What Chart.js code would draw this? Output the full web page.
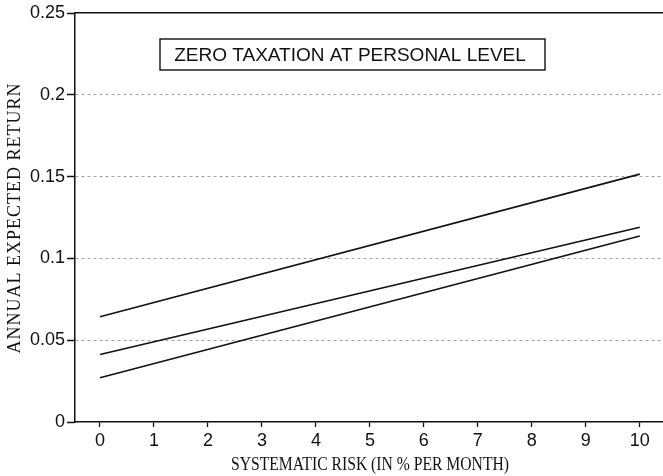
<!DOCTYPE html>
<html>
<head>
<meta charset="utf-8">
<script src="https://cdn.jsdelivr.net/npm/chart.js@4"></script>
<style>
  html, body { margin: 0; padding: 0; background: #fff; }
  #wrap { width: 663px; height: 476px; position: relative; }
</style>
</head>
<body>
<div id="wrap"><canvas id="c" width="663" height="476"></canvas></div>
<script>
// ---- data ----
const riskX = [0, 10];                       // systematic risk (% per month)
const upperLine = [0.0643, 0.1515];
const middleLine = [0.0413, 0.1190];
const lowerLine = [0.0271, 0.1137];
const xTickValues = [0, 1, 2, 3, 4, 5, 6, 7, 8, 9, 10];
const xTickLabels = ['0', '1', '2', '3', '4', '5', '6', '7', '8', '9', '10'];
const yTickValues = [0, 0.05, 0.1, 0.15, 0.2, 0.25];
const yTickLabels = ['0', '0.05', '0.1', '0.15', '0.2', '0.25'];
const xTitle = 'SYSTEMATIC RISK (IN % PER MONTH)';
const yTitle = 'ANNUAL EXPECTED RETURN';
const boxText = 'ZERO TAXATION AT PERSONAL LEVEL';

const toPoints = ys => riskX.map((x, i) => ({ x: x, y: ys[i] }));

const lineStyle = { borderColor: '#111', borderWidth: 1.6, pointRadius: 0, fill: false, tension: 0 };

const decor = {
  id: 'decor',
  afterDraw(chart) {
    const ctx = chart.ctx;
    // annotation box
    ctx.save();
    ctx.strokeStyle = '#111';
    ctx.lineWidth = 1.4;
    ctx.fillStyle = '#fff';
    ctx.fillRect(160, 39, 385, 31);
    ctx.strokeRect(160, 39, 385, 31);
    ctx.fillStyle = '#111';
    ctx.font = '19px "Liberation Sans", Arial, sans-serif';
    ctx.textAlign = 'center';
    ctx.textBaseline = 'middle';
    ctx.fillText(boxText, 350, 55.5);
    ctx.restore();

    // x axis title (condensed serif)
    ctx.save();
    ctx.fillStyle = '#111';
    ctx.font = '18px "Liberation Serif", "Times New Roman", serif';
    ctx.textAlign = 'center';
    ctx.textBaseline = 'alphabetic';
    ctx.translate(370, 470);
    ctx.scale(0.87, 1);
    ctx.fillText(xTitle, 0, 0);
    ctx.restore();

    // y axis title (spaced serif)
    ctx.save();
    ctx.fillStyle = '#111';
    ctx.font = '18px "Liberation Serif", "Times New Roman", serif';
    ctx.letterSpacing = '1px';
    ctx.textAlign = 'center';
    ctx.textBaseline = 'middle';
    ctx.translate(15, 218);
    ctx.rotate(-Math.PI / 2);
    ctx.fillText(yTitle, 0, 0);
    ctx.restore();
  }
};

new Chart(document.getElementById('c'), {
  type: 'line',
  data: {
    datasets: [
      Object.assign({ data: toPoints(upperLine) }, lineStyle),
      Object.assign({ data: toPoints(middleLine) }, lineStyle),
      Object.assign({ data: toPoints(lowerLine) }, lineStyle)
    ]
  },
  options: {
    responsive: false,
    animation: false,
    devicePixelRatio: 1,
    layout: { padding: 0 },
    plugins: { legend: { display: false }, tooltip: { enabled: false } },
    scales: {
      x: {
        type: 'linear',
        position: 'bottom',
        min: -0.463,
        max: 10.43,
        afterBuildTicks: s => { s.ticks = xTickValues.map(v => ({ value: v })); },
        afterFit: s => { s.height = 54; },
        ticks: {
          color: '#111',
          font: { family: '"Liberation Sans", Arial, sans-serif', size: 18 },
          padding: 3,
          maxRotation: 0,
          autoSkip: false,
          callback: (v) => xTickLabels[xTickValues.indexOf(v)]
        },
        grid: { drawOnChartArea: false, drawTicks: true, tickLength: 5, tickColor: '#111', tickWidth: 1.3 },
        border: { display: true, color: '#111', width: 1.5 }
      },
      xTop: {
        type: 'linear',
        position: 'top',
        min: -0.463,
        max: 10.43,
        afterFit: s => { s.height = 13; },
        ticks: { display: false },
        grid: { display: false },
        border: { display: true, color: '#111', width: 1.5 }
      },
      y: {
        type: 'linear',
        min: 0,
        max: 0.25,
        afterBuildTicks: s => { s.ticks = yTickValues.map(v => ({ value: v })); },
        afterFit: s => { s.width = 75; },
        ticks: {
          color: '#111',
          font: { family: '"Liberation Sans", Arial, sans-serif', size: 18 },
          padding: 2,
          callback: (v) => yTickLabels[yTickValues.indexOf(v)]
        },
        grid: {
          drawOnChartArea: true,
          drawTicks: true,
          tickLength: 8,
          tickColor: '#111',
          tickWidth: 1.3,
          tickBorderDash: [1, 0],
          lineWidth: 1,
          color: (c) => (c.tick && (c.tick.value === 0 || c.tick.value === 0.25)) ? 'rgba(0,0,0,0)' : '#a0a0a0'
        },
        border: { display: true, color: '#111', width: 1.5, dash: [3, 3] }
      }
    }
  },
  plugins: [decor]
});
</script>
</body>
</html>
